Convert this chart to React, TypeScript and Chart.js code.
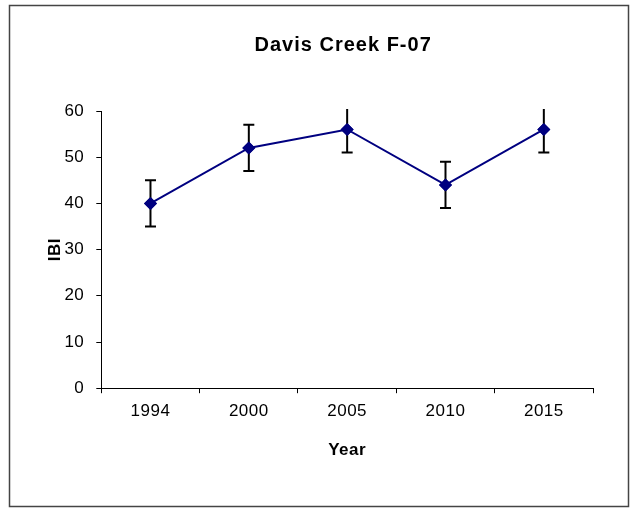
import React, { useEffect, useRef } from "react";
import { Chart, registerables } from "chart.js";

Chart.register(...registerables);

const years = ["1994", "2000", "2005", "2010", "2015"];
const ibi = [40, 52, 56, 44, 56];
const errPlus = [5, 5, 5, 5, 5];
const errMinus = [5, 5, 5, 5, 5];
const chartTitle = "Davis Creek F-07";
const FONT = "'Liberation Sans', Arial, sans-serif";

const spacingPlugin = {
  id: "letterSpacing",
  beforeInit(chart: any) {
    (chart.ctx as any).letterSpacing = "0.5px";
  },
  beforeUpdate(chart: any) {
    (chart.ctx as any).letterSpacing = "0.5px";
  },
};

const borderPlugin = {
  id: "outerBorder",
  beforeDraw(chart: any) {
    const ctx = chart.ctx;
    ctx.save();
    ctx.fillStyle = "#fff";
    ctx.fillRect(0, 0, chart.width, chart.height);
    ctx.strokeStyle = "#444";
    ctx.lineWidth = 1.5;
    ctx.strokeRect(9.5, 5.5, 619, 501);
    ctx.restore();
  },
};

const titlePlugin = {
  id: "customTitle",
  afterDraw(chart: any) {
    const ctx = chart.ctx;
    const ca = chart.chartArea;
    ctx.save();
    (ctx as any).letterSpacing = "1px";
    ctx.fillStyle = "#000";
    ctx.font = `bold 20px ${FONT}`;
    ctx.textAlign = "center";
    ctx.textBaseline = "middle";
    ctx.fillText(chartTitle, (ca.left + ca.right) / 2 - 4, 45);
    ctx.restore();
  },
};

const errorBarPlugin = {
  id: "errorBars",
  afterDatasetsDraw(chart: any) {
    const ctx = chart.ctx;
    const ca = chart.chartArea;
    const xs = chart.scales.x;
    const ys = chart.scales.y;
    ctx.save();
    ctx.beginPath();
    ctx.rect(ca.left, ca.top - 2, ca.right - ca.left, ca.bottom - ca.top + 2);
    ctx.clip();
    ctx.strokeStyle = "#000";
    ctx.lineWidth = 2;
    ibi.forEach((v, i) => {
      const x = xs.getPixelForValue(i);
      const yTop = ys.getPixelForValue(v + errPlus[i]);
      const yBot = ys.getPixelForValue(v - errMinus[i]);
      ctx.beginPath();
      ctx.moveTo(x, yTop);
      ctx.lineTo(x, yBot);
      ctx.moveTo(x - 5.5, yTop);
      ctx.lineTo(x + 5.5, yTop);
      ctx.moveTo(x - 5.5, yBot);
      ctx.lineTo(x + 5.5, yBot);
      ctx.stroke();
    });
    ctx.restore();
    const meta = chart.getDatasetMeta(0);
    meta.data.forEach((el: any) => el.draw(ctx, ca));
  },
};

export default function App() {
  const ref = useRef<HTMLCanvasElement>(null);
  useEffect(() => {
    document.body.style.margin = "0";
    const chart = new Chart(ref.current!, {
      type: "line",
      data: {
        labels: years,
        datasets: [
          {
            data: ibi,
            borderColor: "#000080",
            backgroundColor: "#000080",
            borderWidth: 2,
            pointStyle: "rectRot",
            pointRadius: 6.5,
            pointBorderWidth: 0,
            tension: 0,
          },
        ],
      },
      options: {
        animation: false,
        responsive: false,
        events: [],
        layout: { padding: { top: 111, left: 40, right: 40, bottom: 49 } },
        plugins: { legend: { display: false }, title: { display: false }, tooltip: { enabled: false } },
        scales: {
          x: {
            offset: true,
            grid: { display: true, offset: true, drawOnChartArea: false, drawTicks: true, tickLength: 5, color: "#000" },
            border: { display: true, color: "#000", width: 1 },
            ticks: { color: "#000", font: { family: FONT, size: 17 }, padding: 7.5, maxRotation: 0 },
            title: { display: true, text: "Year", color: "#000", font: { family: FONT, size: 17, weight: "bold" }, padding: { top: 12, bottom: 0 } },
          },
          y: {
            min: 0,
            max: 60,
            ticks: { stepSize: 10, color: "#000", font: { family: FONT, size: 17 }, padding: 12 },
            grid: { display: true, drawOnChartArea: false, drawTicks: true, tickLength: 5, color: "#000" },
            border: { display: true, color: "#000", width: 1 },
            title: { display: true, text: "IBI", color: "#000", font: { family: FONT, size: 17, weight: "bold" }, padding: { top: 5, bottom: -13 } },
          },
        },
      },
      plugins: [spacingPlugin, borderPlugin, titlePlugin, errorBarPlugin],
    } as any);
    return () => chart.destroy();
  }, []);
  return <canvas ref={ref} width={633} height={510} style={{ display: "block" }} />;
}
